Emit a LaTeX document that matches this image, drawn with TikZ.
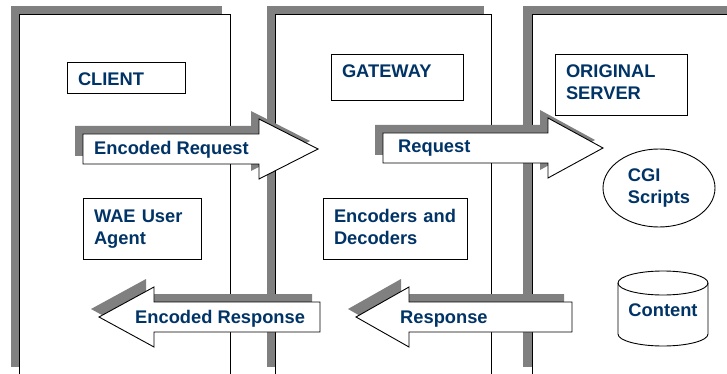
\documentclass[tikz,border=0pt]{standalone}
\usepackage{fontspec}
\setmainfont{Liberation Sans}
\usetikzlibrary{shapes.geometric}
\definecolor{txtblue}{RGB}{0,51,102}
\definecolor{shadowgray}{RGB}{128,128,128}
\newcommand\lblfont{\fontsize{18.3}{22}\selectfont\bfseries}
\begin{document}
\begin{tikzpicture}[x=1pt,y=-1pt,
  lbl/.style={text=txtblue, font=\lblfont, inner sep=0pt},
  tbox/.style={draw, line width=0.9pt, fill=white, anchor=north west, text=txtblue,
    font=\lblfont, align=left, inner xsep=11pt, inner ysep=0pt, outer sep=0pt, text height=24pt},
  panel/.style={draw, line width=0.9pt, fill=white},
  shade/.style={fill=shadowgray},
  blockarrow/.style={draw, line width=0.9pt, fill=white, line join=miter}
]
\useasboundingbox (0,0) rectangle (727,374);
\clip (0,0) rectangle (727,374);

% panels
\fill[shade] (11,6) rectangle (222,367);
\draw[panel] (19,14) rectangle (230,380);
\fill[shade] (267,6) rectangle (484,367);
\draw[panel] (275,14) rectangle (491,380);
\fill[shade] (523,6) rectangle (740,367);
\draw[panel] (532,14) rectangle (745,380);

% text boxes
\node[tbox, text width=96pt, text depth=7pt] (client) at (67,62) {CLIENT};
\node[tbox, text width=110pt, text depth=22pt] (gateway) at (331,54) {GATEWAY};
\node[tbox, text width=110pt, text depth=37pt] (server) at (555,54) {ORIGINAL\\SERVER};
\node[tbox, text width=96pt, text depth=37pt] (agent) at (83,198) {WAE~User\\Agent};
\node[tbox, text width=122pt, text depth=37pt] (codecs) at (323,198) {Encoders~and\\Decoders};

% CGI scripts
\node[draw, ellipse, line width=0.9pt, minimum width=112pt, minimum height=78pt,
  inner sep=0pt, text=txtblue, font=\lblfont, align=left] (cgi) at (659,188) {CGI\\Scripts};

% Content cylinder
\node[lbl] (content) at (663,310) {Content};
\draw[line width=0.9pt] (618,283) -- (618,334)
  arc[start angle=180, end angle=360, x radius=45pt, y radius=12pt] -- (708,283);
\draw[line width=0.9pt] (663,283) ellipse[x radius=45pt, y radius=12pt];

% arrow shadows
\fill[shade, shift={(-8,-8)}] (83,134) -- (259,134) -- (259,119) -- (318,149) -- (259,179) -- (259,164) -- (83,164) -- cycle;
\fill[shade, shift={(-8,-8)}] (383,133) -- (548,133) -- (548,118) -- (603,148) -- (548,178) -- (548,163) -- (383,163) -- cycle;
\fill[shade, shift={(-8,-8)}] (320,302) -- (154,302) -- (154,287) -- (99,317) -- (154,347) -- (154,332) -- (320,332) -- cycle;
\fill[shade, shift={(-8,-8)}] (572,302) -- (409,302) -- (409,287) -- (356,317) -- (409,347) -- (409,332) -- (572,332) -- cycle;

% arrows
\draw[blockarrow] (83,134) -- (259,134) -- (259,119) -- (318,149) -- (259,179) -- (259,164) -- (83,164) -- cycle;
\draw[blockarrow] (383,133) -- (548,133) -- (548,118) -- (603,148) -- (548,178) -- (548,163) -- (383,163) -- cycle;
\draw[blockarrow] (320,302) -- (154,302) -- (154,287) -- (99,317) -- (154,347) -- (154,332) -- (320,332) -- cycle;
\draw[blockarrow] (572,302) -- (409,302) -- (409,287) -- (356,317) -- (409,347) -- (409,332) -- (572,332) -- cycle;

\node[lbl, anchor=base west] (encreq) at (94,154) {Encoded Request};
\node[lbl, anchor=base west] (req) at (398,153) {Request};
\node[lbl, anchor=base west] (encresp) at (135,323) {Encoded Response};
\node[lbl, anchor=base west] (resp) at (400,323) {Response};
\end{tikzpicture}
\end{document}
